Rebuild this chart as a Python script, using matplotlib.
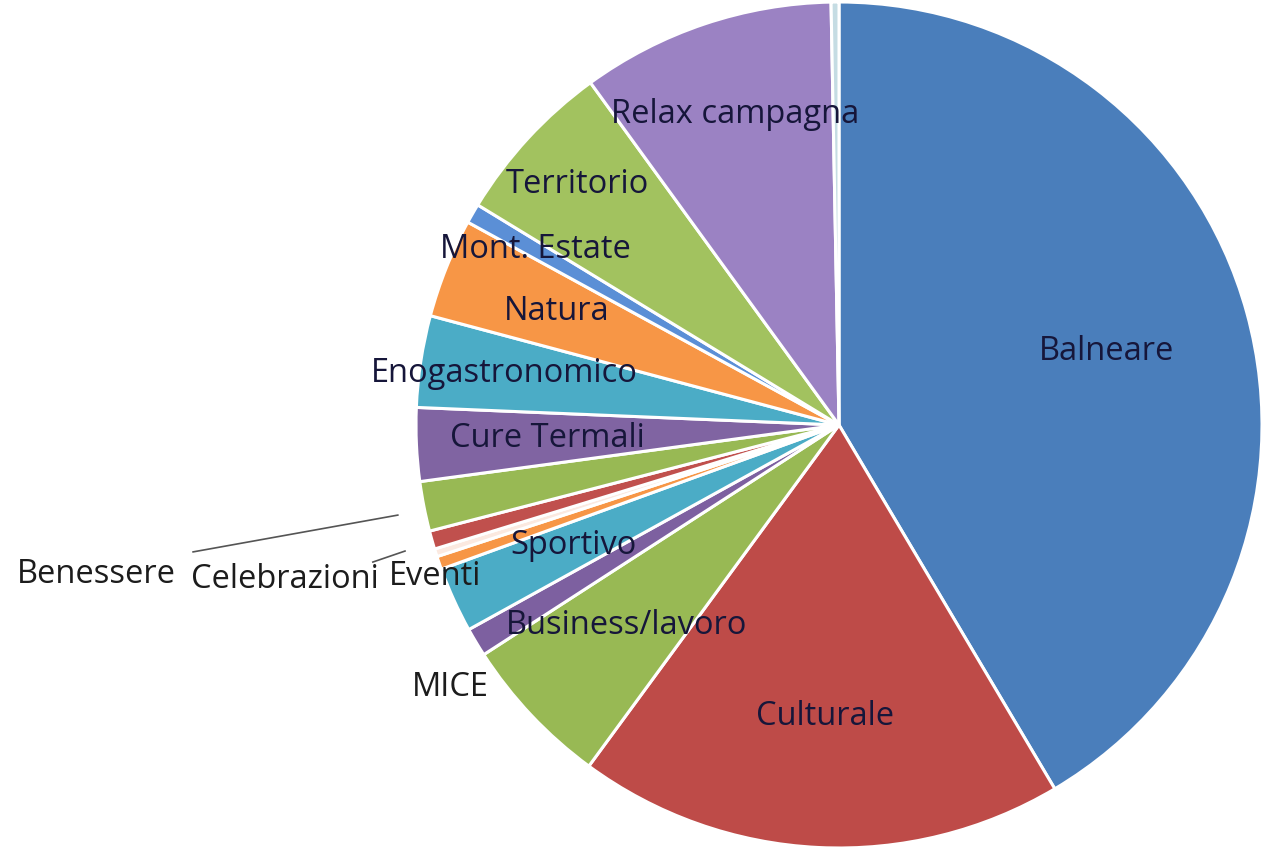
import matplotlib
matplotlib.use('Agg')
import matplotlib.pyplot as plt
import numpy as np

# quote per tipologia di vacanza (%), in senso orario da ore 12
labels = ['Balneare', 'Culturale', 'Business/lavoro', 'MICE', 'Sportivo', 'Eventi', '',
          'Celebrazioni', 'Benessere', 'Cure Termali', 'Enogastronomico', 'Natura',
          'Mont. Estate', 'Territorio', 'Relax campagna', '']
values = [41.5, 18.6, 5.8, 1.1, 2.5, 0.5, 0.3, 0.7, 1.9, 2.8, 3.5, 3.8, 0.75, 6.3, 9.7, 0.3]
colors = ['#4A7EBB', '#BE4B48', '#98B954', '#7D60A0', '#4BACC6', '#F79646', '#FBE9E0',
          '#C0504D', '#98B954', '#8064A2', '#4BACC6', '#F79646', '#5B8FD6', '#A2C25F',
          '#9B82C3', '#C5DCE3']

# distanza radiale delle etichette interne (frazione del raggio)
label_r = {'Balneare': 0.655, 'Culturale': 0.69, 'Business/lavoro': 0.69, 'Sportivo': 0.69,
           'Cure Termali': 0.69, 'Enogastronomico': 0.80, 'Natura': 0.72,
           'Mont. Estate': 0.83, 'Territorio': 0.84, 'Relax campagna': 0.775}

# etichette esterne (coordinate in unità del raggio, centro torta = 0,0)
outside = {'MICE': (-0.92, -0.62), 'Eventi': (-0.955, -0.357),
           'Celebrazioni': (-1.31, -0.366), 'Benessere': (-1.755, -0.354)}
leaders = {'Benessere': ((-1.527, -0.300), (-1.043, -0.213)),
           'Celebrazioni': ((-1.102, -0.324), (-1.026, -0.298))}

W, H = 1264, 863
cx, cy, R = 839, 425, 423

fig = plt.figure(figsize=(W / 100, H / 100), dpi=100)
ax = fig.add_axes([0, 0, 1, 1])

wedges, _ = ax.pie(values, colors=colors, startangle=90, counterclock=False,
                   radius=1.0, center=(0, 0), normalize=True,
                   wedgeprops=dict(edgecolor='white', linewidth=2.2))

# pie() imposta i propri limiti: li ridefinisco dopo
ax.set_xlim(-cx / R, (W - cx) / R)
ax.set_ylim((cy - H) / R, cy / R)
ax.set_aspect('equal')
ax.axis('off')

font = 'Open Sans'
fs = 23.5
for w, lab in zip(wedges, labels):
    if lab in label_r:
        mid = np.deg2rad((w.theta1 + w.theta2) / 2)
        r = label_r[lab]
        ax.text(r * np.cos(mid), r * np.sin(mid), lab, ha='center', va='center',
                fontsize=fs, family=font, color='#16163a')

for lab, (x, y) in outside.items():
    ax.text(x, y, lab, ha='center', va='center', fontsize=fs, family=font, color='#1c1c1c')

for lab, (p0, p1) in leaders.items():
    ax.plot([p0[0], p1[0]], [p0[1], p1[1]], color='#555555', lw=1.2)

fig.savefig('out.png', dpi=100, facecolor='white')
plt.close(fig)
